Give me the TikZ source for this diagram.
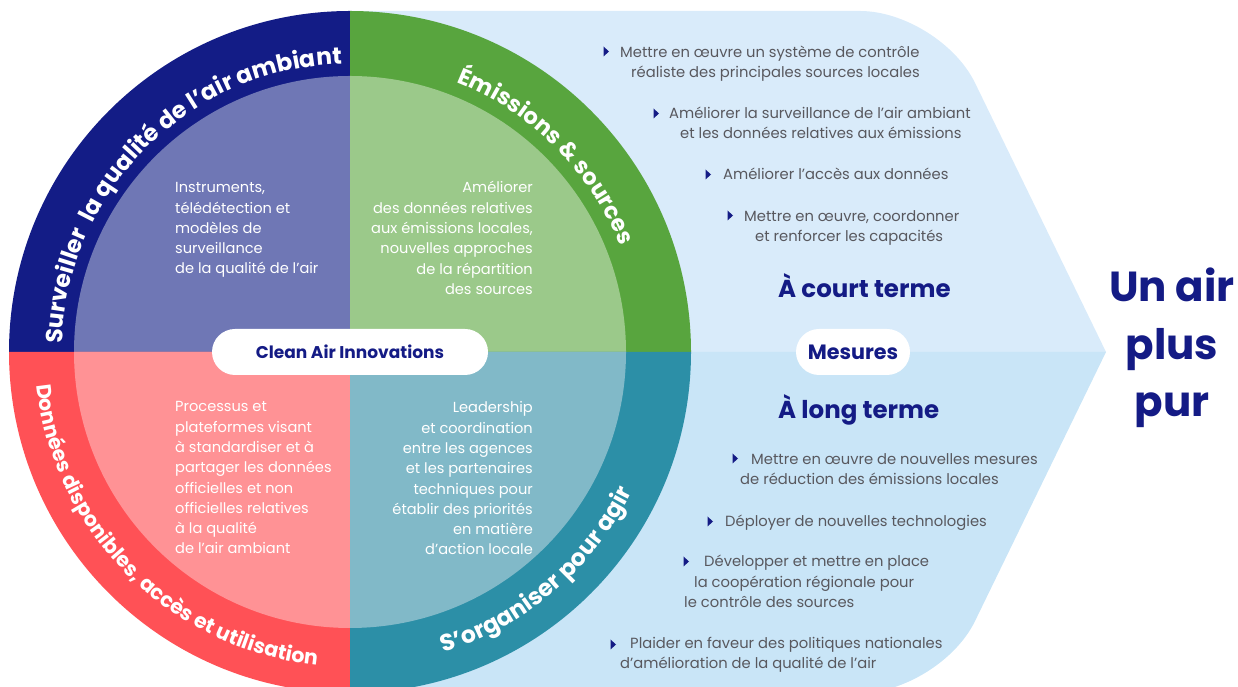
\documentclass[tikz,border=0pt]{standalone}
\usepackage{fontspec}
\setmainfont{Poppins}
\usetikzlibrary{decorations.text}

\definecolor{marine}{HTML}{141B85}
\definecolor{bleuF}{HTML}{131C86}
\definecolor{bleuC}{HTML}{6F77B5}
\definecolor{vertF}{HTML}{58A53E}
\definecolor{vertC}{HTML}{9BC98A}
\definecolor{rougeF}{HTML}{FF5156}
\definecolor{rougeC}{HTML}{FF9295}
\definecolor{tealF}{HTML}{2C8FA7}
\definecolor{tealC}{HTML}{81B9C8}
\definecolor{cielH}{HTML}{D9EBFA}
\definecolor{cielB}{HTML}{C9E5F7}
\definecolor{gristxt}{HTML}{58585E}

\begin{document}
\begin{tikzpicture}[x=1pt, y=1pt, line cap=round, line join=round,
  quart/.style={inner sep=0, text=white, font=\fontsize{14.6}{20.3}\selectfont},
  pilule/.style={fill=white, rounded corners=23, minimum height=46, inner sep=0, text=marine},
  mesure/.style={inner sep=0, anchor=base west, align=left, text=gristxt, font=\fontsize{14.75}{20.7}\selectfont},
  terme/.style={inner sep=0, anchor=base west, text=marine, font=\fontsize{24.5}{24.5}\selectfont\bfseries},
  arc texte/.style n args={2}{decorate, decoration={text along path, text align=center,
    text={|\fontsize{#1}{#1}\selectfont\bfseries\color{white}|#2}}},
  puce/.pic={\fill[marine] (-2.5,-5) -- (3,0) -- (-2.5,5) -- cycle;}]
  \def\Rext{341}
  \def\Rint{276}

  \path[use as bounding box] (0,0) rectangle (1238,687);
  \clip (0,0) rectangle (1238,687);
  \coordinate (O) at (350,335);

  % fleche bleu clair
  \fill[cielH] (350,335) -- (350,676) -- (860,676)
    .. controls (904,676) and (955.7,643.7) .. (975,604.1) -- (1106,335) -- cycle;
  \fill[cielB] (350,335) -- (1106,335) -- (975,65.9)
    .. controls (955.7,26.3) and (904,-6) .. (860,-6) -- (350,-6) -- cycle;

  % quartiers du disque
  \foreach \a/\fc/\cc in {90/bleuF/bleuC, 0/vertF/vertC, 180/rougeF/rougeC, 270/tealF/tealC}{
    \fill[\fc] (O) -- ([shift={(O)}]\a:\Rext) arc[start angle=\a, delta angle=90, radius=\Rext] -- cycle;
    \fill[\cc] (O) -- ([shift={(O)}]\a:\Rint) arc[start angle=\a, delta angle=90, radius=\Rint] -- cycle;
  }

  % titres en arc
  \path[arc texte={23.5}{Surveiller{\ }{\ }la qualité de l’air ambiant}]
    ([shift={(O)}]180:288) arc[start angle=180, end angle=90, radius=288];
  \path[arc texte={22.7}{Émissions {\&} sources}]
    ([shift={(O)}]90:290) arc[start angle=90, end angle=0, radius=290];
  \path[arc texte={20.5}{Données disponibles, accès et utilisation}]
    ([shift={(O)}]180:315) arc[start angle=180, end angle=270, radius=315];
  \path[arc texte={23.5}{S’organiser pour agir}]
    ([shift={(O)}]265.5:315) arc[start angle=265.5, end angle=355.5, radius=315];

  % textes des quartiers (ancre sur la derniere ligne)
  \node[quart, anchor=base west, align=left] (instr) at (175,413)
    {Instruments,\\télédétection et\\modèles de\\surveillance\\de la qualité de l'air};
  \node[quart, anchor=base east, align=right] (emis) at (533,392.5)
    {Améliorer\\des données relatives\\aux émissions locales,\\nouvelles approches\\de la répartition\\des sources};
  \node[quart, anchor=base west, align=left] (proc) at (175,133)
    {Processus et\\plateformes visant\\à standardiser et à\\partager les données\\officielles et non\\officielles relatives\\à la qualité\\de l’air ambiant};
  \node[quart, anchor=base east, align=right] (lead) at (533,132)
    {Leadership\\et coordination\\entre les agences\\et les partenaires\\techniques pour\\établir des priorités\\en matière\\d’action locale};

  % pastilles
  \node[pilule, minimum width=276, font=\fontsize{17}{17}\selectfont\bfseries] (cai) at (O) {Clean Air Innovations};
  \node[pilule, minimum width=114, font=\fontsize{20.7}{20.7}\selectfont\bfseries] (mes) at (853,335) {Mesures};

  % mesures a court terme
  \node[mesure] (c1) at (620,609) {Mettre en œuvre un système de contrôle\\\hspace*{11pt}réaliste des principales sources locales};
  \node[mesure] (c2) at (669,548) {Améliorer la surveillance de l’air ambiant\\\hspace*{11pt}et les données relatives aux émissions};
  \node[mesure] (c3) at (723,507) {Améliorer l’accès aux données};
  \node[mesure] (c4) at (744,445) {Mettre en œuvre, coordonner\\\hspace*{11pt}et renforcer les capacités};
  \foreach \x/\y in {606/635.5, 656/573.5, 708/512.5, 730/471.5}
    \pic at (\x,\y) {puce};
  \node[terme] (court) at (778,389) {À court terme};

  % mesures a long terme
  \node[terme] (long) at (778,268) {À long terme};
  \node[mesure] (l1) at (740,202) {\hspace*{11pt}Mettre en œuvre de nouvelles mesures\\de réduction des émissions locales};
  \node[mesure] (l2) at (725,160) {Déployer de nouvelles technologies};
  \node[mesure] (l3) at (684,79) {\hspace*{20pt}Développer et mettre en place\\\hspace*{10pt}la coopération régionale pour\\le contrôle des sources};
  \node[mesure] (l4) at (620,18) {\hspace*{10pt}Plaider en faveur des politiques nationales\\d’amélioration de la qualité de l’air};
  \foreach \x/\y in {735/228.5, 710/165.5, 686/125.5, 613/42.5}
    \pic at (\x,\y) {puce};

  % objectif
  \node[inner sep=0, anchor=base, align=center, text=marine,
    font=\fontsize{42}{57.5}\selectfont\bfseries] (pur) at (1172,270) {Un air\\plus\\pur};
\end{tikzpicture}
\end{document}
